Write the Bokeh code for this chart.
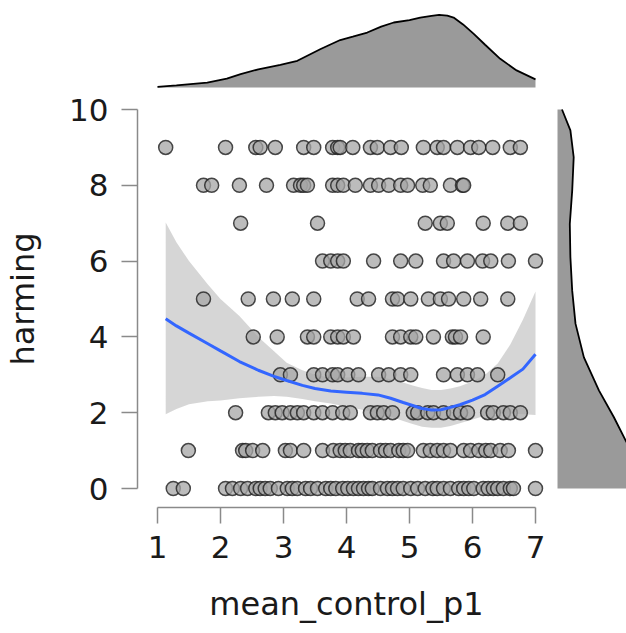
from bokeh.plotting import figure
from bokeh.layouts import column, row
from bokeh.models import Range1d, FixedTicker, ColumnDataSource
from bokeh.embed import file_html
from bokeh.resources import INLINE

# ---------------- data ----------------
x_at_harming_9 = [1.13, 2.08, 2.56, 2.63, 2.87, 3.32, 3.48, 3.78, 3.86, 3.90, 4.10, 4.38, 4.49,
                  4.70, 4.87, 5.22, 5.44, 5.54, 5.76, 5.97, 6.10, 6.32, 6.60, 6.76]
x_at_harming_8 = [1.73, 1.86, 2.30, 2.73, 3.16, 3.27, 3.32, 3.38, 3.78, 3.86, 3.95, 4.14, 4.38,
                  4.51, 4.67, 4.86, 4.97, 5.21, 5.33, 5.65, 5.84, 5.86]
x_at_harming_7 = [2.32, 3.54, 5.25, 5.49, 5.60, 6.17, 6.56, 6.76]
x_at_harming_6 = [3.62, 3.75, 3.86, 3.95, 4.43, 4.86, 5.10, 5.54, 5.70, 5.92, 6.16, 6.29, 6.57, 7.0]
x_at_harming_5 = [1.73, 2.44, 2.84, 3.14, 3.48, 4.17, 4.35, 4.73, 4.81, 5.02, 5.30, 5.49, 5.62,
                  5.86, 6.13, 6.56]
x_at_harming_4 = [2.52, 2.90, 3.38, 3.48, 3.75, 3.86, 3.95, 4.11, 4.73, 4.86, 5.02, 5.10, 5.38,
                  5.68, 5.73, 5.81, 6.17]
x_at_harming_3 = [2.95, 3.11, 3.48, 3.62, 3.78, 3.86, 4.02, 4.19, 4.51, 4.67, 4.86, 5.02, 5.54,
                  5.76, 5.92, 6.08, 6.40]
x_at_harming_2 = [2.24, 2.76, 2.87, 2.98, 3.11, 3.22, 3.32, 3.48, 3.62, 3.78, 3.94, 4.06, 4.38,
                  4.49, 4.59, 4.73, 5.06, 5.13, 5.29, 5.38, 5.54, 5.70, 5.81, 5.92, 6.24, 6.33,
                  6.49, 6.60, 6.76]
x_at_harming_1 = [1.49, 2.35, 2.40, 2.51, 2.67, 3.03, 3.11, 3.32, 3.62, 3.79, 3.90, 3.98, 4.06,
                  4.19, 4.25, 4.33, 4.41, 4.54, 4.62, 4.70, 4.83, 4.90, 4.97, 5.22, 5.33, 5.44,
                  5.54, 5.65, 5.86, 5.97, 6.10, 6.21, 6.29, 6.44, 6.57, 7.0]
x_at_harming_0 = [1.25, 1.41, 2.08, 2.19, 2.32, 2.43, 2.56, 2.63, 2.71, 2.79, 2.92, 3.06, 3.14,
                  3.22, 3.35, 3.43, 3.54, 3.67, 3.75, 3.83, 3.94, 4.02, 4.11, 4.19, 4.27, 4.35,
                  4.41, 4.54, 4.65, 4.73, 4.81, 4.90, 5.02, 5.13, 5.25, 5.37, 5.44, 5.54, 5.65,
                  5.78, 5.86, 5.94, 6.02, 6.17, 6.25, 6.33, 6.40, 6.49, 6.60, 6.65, 7.0]

rows = {9: x_at_harming_9, 8: x_at_harming_8, 7: x_at_harming_7, 6: x_at_harming_6,
        5: x_at_harming_5, 4: x_at_harming_4, 3: x_at_harming_3, 2: x_at_harming_2,
        1: x_at_harming_1, 0: x_at_harming_0}

# loess smooth with confidence band
smooth_x = [1.13, 1.3, 1.5, 1.8, 2.0, 2.3, 2.6, 2.85, 3.05, 3.3, 3.5, 3.75, 4.0, 4.25, 4.5,
            4.7, 4.9, 5.05, 5.2, 5.35, 5.5, 5.65, 5.8, 6.0, 6.2, 6.4, 6.6, 6.8, 7.0]
smooth_fit = [4.48, 4.29, 4.10, 3.82, 3.63, 3.35, 3.12, 2.96, 2.85, 2.72, 2.64, 2.57, 2.54,
              2.51, 2.47, 2.38, 2.27, 2.19, 2.11, 2.07, 2.08, 2.14, 2.21, 2.33, 2.48, 2.70,
              2.92, 3.15, 3.54]
smooth_upper = [7.02, 6.50, 6.00, 5.38, 5.00, 4.55, 4.00, 3.62, 3.32, 3.12, 3.00, 2.92, 2.93,
                2.95, 2.95, 2.88, 2.80, 2.72, 2.65, 2.60, 2.60, 2.64, 2.70, 2.82, 3.00, 3.30,
                3.80, 4.45, 5.20]
smooth_lower = [1.96, 2.10, 2.22, 2.30, 2.32, 2.38, 2.42, 2.44, 2.42, 2.36, 2.30, 2.24, 2.16,
                2.08, 2.00, 1.90, 1.78, 1.70, 1.63, 1.60, 1.60, 1.65, 1.72, 1.82, 1.92, 1.98,
                1.98, 1.96, 1.94]

# marginal density of mean_control_p1 (top)
dens_x_grid = [1.0, 1.3, 1.79, 2.1, 2.32, 2.6, 2.95, 3.22, 3.59, 3.9, 4.1, 4.33, 4.55, 4.75,
               5.0, 5.17, 5.35, 5.47, 5.6, 5.7, 5.85, 6.02, 6.2, 6.44, 6.7, 7.0]
dens_x_vals = [0.003, 0.010, 0.023, 0.042, 0.063, 0.085, 0.106, 0.125, 0.180, 0.222, 0.238,
               0.257, 0.285, 0.304, 0.315, 0.327, 0.335, 0.340, 0.336, 0.327, 0.295, 0.251,
               0.200, 0.134, 0.080, 0.038]

# marginal density of harming (right)
dens_y_grid = [0.0, 0.4, 0.8, 1.27, 1.88, 2.59, 3.46, 4.35, 5.22, 6.1, 6.98, 7.86, 8.74,
               9.45, 10.0]
dens_y_vals = [0.290, 0.280, 0.260, 0.227, 0.188, 0.138, 0.088, 0.060, 0.049, 0.043, 0.041,
               0.049, 0.054, 0.043, 0.015]

x_ticks = [1, 2, 3, 4, 5, 6, 7]
y_ticks = [0, 2, 4, 6, 8, 10]
x_title = "mean_control_p1"
y_title = "harming"

# ---------------- layout constants (pixels) ----------------
W, H = 626, 633
TOP_H = 90                 # height of the top marginal strip
MAIN_W = 555               # width of the main panel (incl. left axis area)
FRAME_L, FRAME_B = 137, 126
PX_X, PX_Y = 63.0, 37.9    # pixels per data unit
X1_POS, Y0_POS = 20, 19    # x=1 / y=0 offsets from frame left / bottom
main_h = H - TOP_H
frame_w = MAIN_W - FRAME_L
frame_h = main_h - FRAME_B

x_start = 1 - X1_POS / PX_X
y_start = 0 - Y0_POS / PX_Y
x_range = Range1d(x_start, x_start + frame_w / PX_X)
y_range = Range1d(y_start, y_start + frame_h / PX_Y)

k_top = 0.34 / 72.7        # density units per pixel, top strip
top_range = Range1d(-3 * k_top, (TOP_H - 3) * k_top)
RIGHT_W = W - MAIN_W
k_right = 1 / 300.0        # density units per pixel, right strip
right_range = Range1d(-2 * k_right, (RIGHT_W - 2) * k_right)

FONT = "DejaVu Sans"
TXT = "#1a1a1a"
DENS_FILL = "#9a9a9a"


def bare(fig):
    fig.grid.visible = False
    fig.outline_line_color = None
    fig.background_fill_color = "white"
    fig.border_fill_color = "white"


# ---------- main scatter panel ----------
p = figure(width=MAIN_W, height=main_h, output_backend="svg", toolbar_location=None,
           x_range=x_range, y_range=y_range,
           min_border_left=FRAME_L, min_border_right=0, min_border_top=0,
           min_border_bottom=FRAME_B)
bare(p)

for ax, ticks, bounds in ((p.xaxis, x_ticks, (1, 7)), (p.yaxis, y_ticks, (0, 10))):
    ax.ticker = FixedTicker(ticks=ticks)
    ax.bounds = bounds
    ax.axis_line_color = "#8a8a8a"
    ax.axis_line_width = 1.5
    ax.major_tick_line_color = "#8a8a8a"
    ax.major_tick_line_width = 1.5
    ax.major_tick_in = 0
    ax.major_tick_out = 16
    ax.minor_tick_line_color = None
    ax.major_label_text_font = FONT
    ax.major_label_text_font_size = "31px"
    ax.major_label_text_color = TXT
    ax.axis_label_text_font = FONT
    ax.axis_label_text_font_size = "32px"
    ax.axis_label_text_font_style = "normal"
    ax.axis_label_text_color = TXT

p.xaxis.axis_label = x_title
p.yaxis.axis_label = y_title
p.xaxis.major_label_standoff = 12
p.yaxis.major_label_standoff = 13
p.xaxis.axis_label_standoff = 24
p.yaxis.axis_label_standoff = 24

p.varea(x=smooth_x, y1=smooth_lower, y2=smooth_upper, fill_color="#999999", fill_alpha=0.4)

xs, ys = [], []
for yv, xl in rows.items():
    xs.extend(xl)
    ys.extend([yv] * len(xl))
src = ColumnDataSource(dict(x=xs, y=ys))
p.scatter("x", "y", source=src, marker="circle", size=14, fill_color="#a6a6a6",
          fill_alpha=0.75, line_color="#1e1e1e", line_alpha=0.8, line_width=1.5)

p.line(smooth_x, smooth_fit, line_color="#3366FF", line_width=3)

# ---------- top marginal density ----------
pt = figure(width=MAIN_W, height=TOP_H, output_backend="svg", toolbar_location=None,
            x_range=x_range, y_range=top_range, x_axis_location=None, y_axis_location=None,
            min_border_left=FRAME_L, min_border_right=0, min_border_top=0,
            min_border_bottom=0)
bare(pt)
pt.varea(x=dens_x_grid, y1=0, y2=dens_x_vals, fill_color=DENS_FILL)
pt.line(dens_x_grid, dens_x_vals, line_color="black", line_width=1.8)

# ---------- right marginal density ----------
pr = figure(width=RIGHT_W, height=main_h, output_backend="svg", toolbar_location=None,
            x_range=right_range, y_range=y_range, x_axis_location=None, y_axis_location=None,
            min_border_left=0, min_border_right=0, min_border_top=0,
            min_border_bottom=FRAME_B)
bare(pr)
pr.harea(y=dens_y_grid, x1=0, x2=dens_y_vals, fill_color=DENS_FILL)
pr.line(dens_y_vals, dens_y_grid, line_color="black", line_width=1.8)

layout = column(pt, row(p, pr, spacing=0), spacing=0)

open("out.html", "w").write(file_html(layout, INLINE))
